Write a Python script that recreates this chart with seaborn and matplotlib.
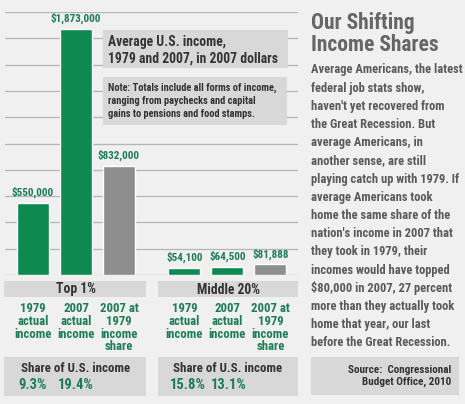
import matplotlib
matplotlib.use("Agg")
import matplotlib.pyplot as plt
import seaborn as sns
import pandas as pd
from matplotlib.patches import Rectangle

# ---------------- data ----------------
groups = ["Top 1%", "Middle 20%"]
bar_kinds = ["1979\nactual\nincome", "2007\nactual\nincome", "2007 at\n1979\nincome\nshare"]
top1_values = [550000, 1873000, 832000]
middle20_values = [54100, 64500, 81888]
top1_value_labels = ["$550,000", "$1,873,000", "$832,000"]
middle20_value_labels = ["$54,100", "$64,500", "$81,888"]
top1_shares = ["9.3%", "19.4%"]
middle20_shares = ["15.8%", "13.1%"]
bar_types = ["actual", "actual", "at 1979 share"]
y_ticks = [0, 200000, 400000, 600000, 800000, 1000000, 1200000,
           1400000, 1600000, 1800000, 2000000]

box_title = "Average U.S. income,\n1979 and 2007, in 2007 dollars"
box_note = ("Note: Totals include all forms of income,\n"
            "ranging from paychecks and capital\n"
            "gains to pensions and food stamps.")
panel_title = "Our Shifting\nIncome Shares"
panel_lines = [
    "Average Americans, the latest",
    "federal job stats show,",
    "haven't yet recovered from",
    "the Great Recession. But",
    "average Americans, in",
    "another sense, are still",
    "playing catch up with 1979. If",
    "average Americans took",
    "home the same share of the",
    "nation's income in 2007 that",
    "they took in 1979, their",
    "incomes would have topped",
    "$80,000 in 2007, 27 percent",
    "more than they actually took",
    "home that year, our last",
    "before the Great Recession.",
]
source_text = "Source:  Congressional\nBudget Office, 2010"

# ---------------- style ----------------
BG = "#f0f0f0"
GREEN = "#0e8a50"
GREEN_TXT = "#1d7d58"
GRAY_BAR = "#8e8e8e"
BOX = "#d8d8d8"
GRID = "#b4b4b4"
DARK = "#333333"
MID = "#5a5a5a"
FONT = ["Roboto Condensed", "Liberation Sans", "DejaVu Sans"]

sns.set_theme(style="white")
plt.rcParams["font.family"] = FONT

W, H = 465, 404
fig = plt.figure(figsize=(W / 100, H / 100), dpi=100, facecolor=BG)

def fx(x):
    return x / W

def fy(y):
    return 1 - y / H

# bars axes: x 5..298 px, y 12 (2M) .. 275 (0)
ax = fig.add_axes([fx(5), fy(275), (298 - 5) / W, (275 - 12) / H])
ax.set_facecolor(BG)

GROUP_GAP = 3.52
rows = []
for g, vals in enumerate([top1_values, middle20_values]):
    for i, v in enumerate(vals):
        rows.append({"pos": g * GROUP_GAP + i, "value": v, "type": bar_types[i]})
df = pd.DataFrame(rows)

sns.barplot(data=df, x="pos", y="value", hue="type",
            palette={"actual": GREEN, "at 1979 share": GRAY_BAR},
            native_scale=True, width=0.75, dodge=False, legend=False,
            saturation=1, ax=ax, zorder=3)

ax.set_xlim(-0.651, 6.163)
ax.set_ylim(0, 2000000)
ax.set_yticks(y_ticks)
ax.set_xticks([])
ax.tick_params(left=False, labelleft=False, bottom=False, labelbottom=False)
ax.grid(axis="y", color=GRID, linewidth=0.9)
ax.grid(axis="x", visible=False)
ax.set_axisbelow(True)
for s in ax.spines.values():
    s.set_visible(False)
ax.set_xlabel("")
ax.set_ylabel("")

# value labels
all_labels = top1_value_labels + middle20_value_labels
for (pos, val), lab in zip(df[["pos", "value"]].values, all_labels):
    ax.annotate(lab, (pos, val), xytext=(0, 7.5), textcoords="offset points",
                ha="center", va="center", fontsize=8.0, fontweight="bold",
                color=GREEN_TXT, zorder=5)

# ---------------- boxes ----------------
def box(x0, y0, x1, y1, color=BOX):
    fig.add_artist(Rectangle((fx(x0), fy(y1)), (x1 - x0) / W, (y1 - y0) / H,
                             transform=fig.transFigure, facecolor=color,
                             edgecolor="none", zorder=2))

box(103, 30, 288, 68)
box(103, 77, 287, 125)
fig.text(fx(108), fy(50.5), box_title, ha="left", va="center", fontsize=9.8,
         fontweight="bold", color=DARK, linespacing=1.2, zorder=4)
fig.text(fx(108), fy(101), box_note, ha="left", va="center", fontsize=7.5,
         fontweight="bold", color=DARK, linespacing=1.35, zorder=4)

# group label boxes
group_centers = [76, 228]
group_boxes = [(4, 146), (158, 298)]
for (x0, x1), c, name in zip(group_boxes, group_centers, groups):
    box(x0, 281, x1, 297)
    fig.text(fx(c), fy(289.5), name, ha="center", va="center", fontsize=9.8,
             fontweight="bold", color=DARK, zorder=4)

# category labels under bars
bar_px = [[33, 76, 119], [184.5, 227.5, 270.5]]
for g in range(2):
    for i, lab in enumerate(bar_kinds):
        fig.text(fx(bar_px[g][i]), fy(302), lab, ha="center", va="top",
                 fontsize=9.2, fontweight="bold", color=GREEN_TXT,
                 linespacing=0.98, zorder=4)

# share boxes
share_x = [[33, 76], [188, 229]]
for g, (x0, x1) in enumerate(group_boxes):
    box(x0, 357, x1, 396)
    fig.text(fx(group_centers[g]), fy(368), "Share of U.S. income",
             ha="center", va="center", fontsize=9.3, fontweight="bold",
             color=DARK, zorder=4)
    shares = [top1_shares, middle20_shares][g]
    for sx, s in zip(share_x[g], shares):
        fig.text(fx(sx), fy(385), s, ha="center", va="center", fontsize=10.5,
                 fontweight="bold", color=GREEN_TXT, zorder=4)

# ---------------- right panel ----------------
fig.text(fx(311), fy(34), panel_title, ha="left", va="center", fontsize=15.5,
         fontweight="bold", color="#666666", linespacing=1.0)
for k, line in enumerate(panel_lines):
    fig.text(fx(311), fy(70 + 18.2 * k), line, ha="left", va="center",
             fontsize=9.0, fontweight="bold", color=MID)
box(311, 357, 459, 395)
fig.text(fx(451), fy(376), source_text, ha="right", va="center", fontsize=8.0,
         fontweight="bold", color=DARK, linespacing=1.25, zorder=4)

fig.savefig("out.png", dpi=100, facecolor=BG)
